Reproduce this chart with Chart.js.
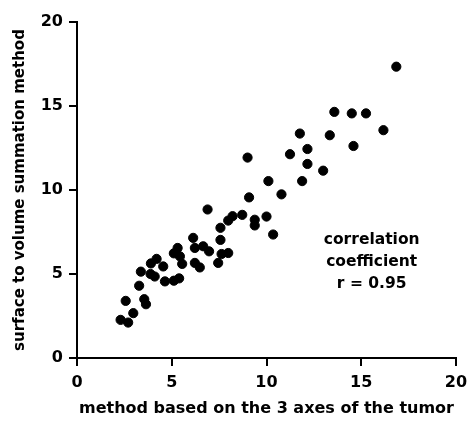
<!DOCTYPE html>
<html>
<head>
<meta charset="utf-8">
<script src="https://cdn.jsdelivr.net/npm/chart.js@4"></script>
<style>
  html,body{margin:0;padding:0;background:#fff}
  #wrap{width:468px;height:421px;position:relative}
</style>
</head>
<body>
<div id="wrap"><canvas id="ch"></canvas></div>
<script>
// values
const xVals=[2.30,2.70,2.97,2.57,3.55,3.64,3.28,3.37,3.88,4.10,3.90,4.20,4.55,4.64,5.11,5.39,5.31,5.11,5.43,5.55,
  6.13,6.22,6.66,6.97,7.63,7.98,6.22,6.48,7.45,6.89,7.57,7.57,7.98,8.21,8.72,9.38,9.38,10.0,9.00,9.08,
  10.1,10.79,10.35,11.24,11.76,11.88,12.16,12.16,12.99,13.34,13.58,14.5,14.59,15.25,16.17,16.85];
const yVals=[2.27,2.11,2.67,3.40,3.50,3.20,4.30,5.14,5.00,4.85,5.63,5.90,5.45,4.56,4.60,4.74,6.55,6.23,6.05,5.60,
  7.15,6.55,6.65,6.35,6.19,6.25,5.66,5.39,5.66,8.84,7.75,7.03,8.18,8.44,8.52,8.23,7.89,8.42,11.93,9.56,
  10.53,9.74,7.35,12.13,13.36,10.53,12.44,11.55,11.15,13.26,14.65,14.56,12.62,14.56,13.56,17.34];
const xTicks=[0,5,10,15,20];
const yTicks=[0,5,10,15,20];
const noteLines=['correlation','coefficient','r = 0.95'];

const pts=xVals.map((x,i)=>({x:x,y:yVals[i]}));
const font='"DejaVu Sans", sans-serif';

// annotation text, anchored in data units
const notePlugin={id:'note',afterDraw(c){
  const ctx=c.ctx,xs=c.scales.x,ys=c.scales.y;
  ctx.save();
  ctx.fillStyle='#000';ctx.font='bold 15.5px '+font;ctx.textAlign='center';ctx.textBaseline='middle';
  const cx=xs.getPixelForValue(15.55);
  noteLines.forEach((t,i)=>ctx.fillText(t,cx,ys.getPixelForValue(7.0-i*1.3)));
  ctx.restore();
}};

new Chart(document.getElementById('ch'),{
  type:'scatter',
  data:{datasets:[{data:pts,backgroundColor:'#000',borderColor:'#000',pointRadius:4.6,pointHoverRadius:4.6}]},
  options:{
    responsive:true,maintainAspectRatio:false,animation:false,
    layout:{padding:{left:0,top:22,right:12,bottom:0}},
    plugins:{legend:{display:false},tooltip:{enabled:false}},
    scales:{
      x:{type:'linear',min:0,max:20,
        afterBuildTicks:s=>{s.ticks=xTicks.map(v=>({value:v}));},
        afterFit:s=>{s.height=63;s.paddingLeft=0;s.paddingRight=0;},
        grid:{display:true,drawOnChartArea:false,drawTicks:true,tickLength:8,color:'#000',lineWidth:2},
        border:{color:'#000',width:2},
        ticks:{color:'#000',padding:7,maxRotation:0,font:{family:font,size:16,weight:'bold'}},
        title:{display:true,text:'method based on the 3 axes of the tumor',color:'#000',padding:{top:0,bottom:3},font:{family:font,size:16,weight:'bold'}}
      },
      y:{type:'linear',min:0,max:20,
        afterBuildTicks:s=>{s.ticks=yTicks.map(v=>({value:v}));},
        afterFit:s=>{s.width=77;s.paddingTop=0;s.paddingBottom=0;},
        grid:{display:true,drawOnChartArea:false,drawTicks:true,tickLength:8,color:'#000',lineWidth:2},
        border:{color:'#000',width:2},
        ticks:{color:'#000',padding:6,font:{family:font,size:16,weight:'bold'}},
        title:{display:true,text:'surface to volume summation method',color:'#000',padding:{top:11,bottom:0},font:{family:font,size:15,weight:'bold'}}
      }
    }
  },
  plugins:[notePlugin]
});
</script>
</body>
</html>
